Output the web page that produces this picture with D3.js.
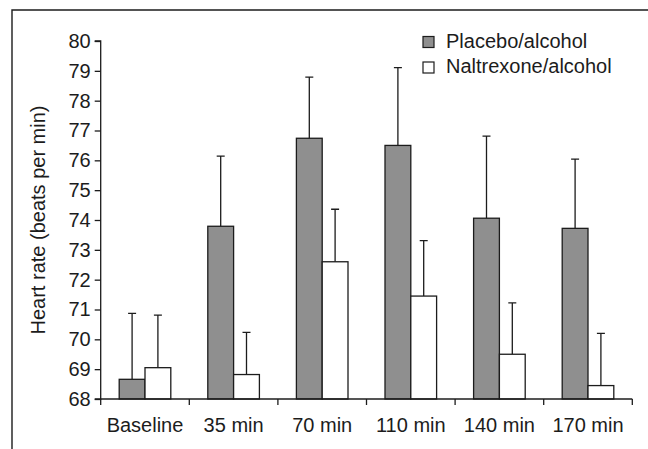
<!DOCTYPE html>
<html>
<head>
<meta charset="utf-8">
<script src="https://cdn.jsdelivr.net/npm/d3@7"></script>
<style>
  body { margin: 0; background: #fff; }
  svg { display: block; font-family: "Liberation Sans", Arial, sans-serif; }
</style>
</head>
<body>
<svg id="chart" width="648" height="449"></svg>
<script>
"use strict";

/********/
/* data */
/********/

const categories = ["Baseline", "35 min", "70 min", "110 min", "140 min", "170 min"];
const seriesNames = ["Placebo/alcohol", "Naltrexone/alcohol"];
const placeboMeans = [68.66, 73.79, 76.74, 76.5, 74.06, 73.72];
const placeboErrors = [2.21, 2.35, 2.05, 2.61, 2.75, 2.32];
const naltrexoneMeans = [69.05, 68.82, 72.6, 71.45, 69.5, 68.45];
const naltrexoneErrors = [1.76, 1.41, 1.76, 1.86, 1.72, 1.75];
const yTicks = [68, 69, 70, 71, 72, 73, 74, 75, 76, 77, 78, 79, 80];

const colours = ["#8f8f8f", "#ffffff"];
const ink = "#1c1c1c";

/********/
/* view */
/********/

const svg = d3.select("#chart");

// frame: top and left edges only
svg.append("path")
  .attr("d", "M12,449V10H648")
  .attr("fill", "none")
  .attr("stroke", ink)
  .attr("stroke-width", 1.4);

const x0 = d3.scaleBand()
  .domain(categories)
  .range([100.7, 632.3])
  .padding(0);

const x1 = d3.scaleBand()
  .domain(seriesNames)
  .range([0, x0.bandwidth()])
  .paddingInner(0)
  .paddingOuter(0.717);

const y = d3.scaleLinear()
  .domain([68, 80])
  .range([399, 41]);

const data = categories.map((c, i) => ({
  category: c,
  values: [
    { series: seriesNames[0], mean: placeboMeans[i], err: placeboErrors[i], colour: colours[0] },
    { series: seriesNames[1], mean: naltrexoneMeans[i], err: naltrexoneErrors[i], colour: colours[1] },
  ],
}));

const groups = svg.append("g")
  .selectAll("g")
  .data(data)
  .join("g")
  .attr("transform", d => "translate(" + x0(d.category) + ",0)");

// error bars (upper only)
groups.selectAll(".err")
  .data(d => d.values)
  .join("path")
  .attr("class", "err")
  .attr("d", d => {
    const cx = x1(d.series) + x1.bandwidth() / 2;
    const top = y(d.mean + d.err);
    return "M" + cx + "," + y(d.mean) + "V" + top + "M" + (cx - 4) + "," + top + "H" + (cx + 4);
  })
  .attr("fill", "none")
  .attr("stroke", ink)
  .attr("stroke-width", 1.3);

groups.selectAll("rect")
  .data(d => d.values)
  .join("rect")
  .attr("x", d => x1(d.series))
  .attr("y", d => y(d.mean))
  .attr("width", x1.bandwidth())
  .attr("height", d => y(68) - y(d.mean))
  .attr("fill", d => d.colour)
  .attr("stroke", ink)
  .attr("stroke-width", 1.3);

// y axis
const yAxis = svg.append("g")
  .attr("transform", "translate(100.7,0)")
  .call(d3.axisLeft(y).tickValues(yTicks).tickSize(6).tickPadding(4).tickFormat(d3.format("d")));

// x axis
const xAxis = svg.append("g")
  .attr("transform", "translate(0,399)")
  .call(d3.axisBottom(x0).tickSize(0).tickPadding(19));

xAxis.append("g")
  .selectAll("line")
  .data(categories.concat(["end"]))
  .join("line")
  .attr("x1", (d, i) => i < categories.length ? x0(d) : x0.range()[1])
  .attr("x2", (d, i) => i < categories.length ? x0(d) : x0.range()[1])
  .attr("y1", 0)
  .attr("y2", 6)
  .attr("stroke", ink)
  .attr("stroke-width", 1.3);

[yAxis, xAxis].forEach(ax => {
  ax.select(".domain").attr("stroke", ink).attr("stroke-width", 1.3);
  ax.selectAll(".tick line").attr("stroke", ink).attr("stroke-width", 1.3);
  ax.selectAll("text").attr("fill", ink).attr("font-size", "20px")
    .attr("font-family", "Liberation Sans, Arial, sans-serif");
});
yAxis.select(".domain").attr("d", "M-6," + y(80) + "H0V" + y(68) + "H-6");
xAxis.select(".domain").attr("d", "M" + x0.range()[0] + ",0H" + x0.range()[1]);

// y axis title
svg.append("text")
  .attr("transform", "translate(45,220) rotate(-90)")
  .attr("text-anchor", "middle")
  .attr("font-size", "20px")
  .attr("fill", ink)
  .text("Heart rate (beats per min)");

// legend
const legend = svg.append("g")
  .selectAll("g")
  .data(seriesNames)
  .join("g")
  .attr("transform", (d, i) => "translate(423," + (36.5 + i * 25.5) + ")");

legend.append("rect")
  .attr("width", 11)
  .attr("height", 11)
  .attr("fill", (d, i) => colours[i])
  .attr("stroke", ink)
  .attr("stroke-width", 1.2);

legend.append("text")
  .attr("x", 23)
  .attr("y", 11)
  .attr("font-size", "20px")
  .attr("fill", ink)
  .text(d => d);
</script>
</body>
</html>
